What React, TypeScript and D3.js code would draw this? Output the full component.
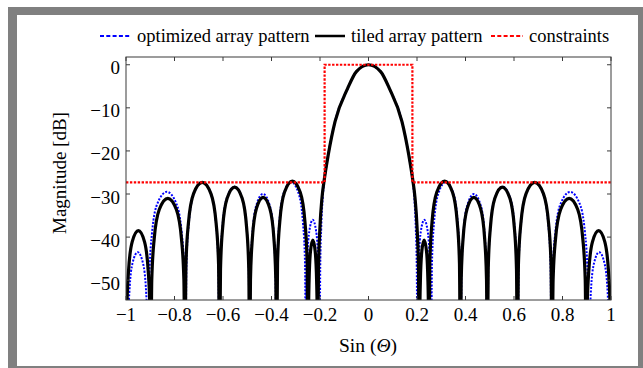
import React from 'react';
import * as d3 from 'd3';

// ---- data ----
const xTickValues = [-1, -0.8, -0.6, -0.4, -0.2, 0, 0.2, 0.4, 0.6, 0.8, 1];
const xTickLabels = ['−1', '−0.8', '−0.6', '−0.4', '−0.2', '0', '0.2', '0.4', '0.6', '0.8', '1'];
const yTickValues = [0, -10, -20, -30, -40, -50];
const yTickLabels = ['0', '−10', '−20', '−30', '−40', '−50'];
const legendLabels = ['optimized array pattern', 'tiled array pattern', 'constraints'];

// constraint mask [sin(theta), dB]
const constraintMask: [number, number][] = [
  [-1, -27.3], [-0.181, -27.3], [-0.181, 0], [0.181, 0], [0.181, -27.3], [1, -27.3],
];

// tiled array pattern [sin(theta), dB]
const tiledPattern: [number, number][] = [
  [-1.0, -70], [-0.9969, -57.5], [-0.9898, -48.0], [-0.9745, -41.1], [-0.949, -38.5], [-0.9235, -41.1], [-0.9082, -48.0], [-0.9011, -57.5],
  [-0.898, -70], [-0.8938, -50.0], [-0.8839, -40.5], [-0.8628, -33.6], [-0.8275, -31.0], [-0.7923, -33.6], [-0.7711, -40.5], [-0.7612, -50.0],
  [-0.757, -70], [-0.7527, -46.3], [-0.7427, -36.8], [-0.7213, -29.9], [-0.6855, -27.3], [-0.6498, -29.9], [-0.6283, -36.8], [-0.6183, -46.3],
  [-0.614, -70], [-0.6103, -47.4], [-0.6016, -37.9], [-0.583, -31.0], [-0.552, -28.4], [-0.521, -31.0], [-0.5024, -37.9], [-0.4937, -47.4],
  [-0.49, -70], [-0.4867, -49.8], [-0.4789, -40.3], [-0.4623, -33.4], [-0.4345, -30.8], [-0.4068, -33.4], [-0.3901, -40.3], [-0.3823, -49.8],
  [-0.379, -70], [-0.3751, -46.0], [-0.366, -36.5], [-0.3465, -29.6], [-0.314, -27.0], [-0.2815, -29.6], [-0.262, -36.5], [-0.2529, -46.0],
  [-0.249, -70], [-0.2478, -59.7], [-0.2451, -50.2], [-0.2393, -43.3], [-0.2295, -40.7], [-0.2198, -43.3], [-0.2139, -50.2], [-0.2112, -59.7],
  [-0.21, -70], [-0.206, -47.0], [-0.2, -37.5], [-0.192, -31.0], [-0.182, -26.5], [-0.166, -20.9], [-0.138, -13.2], [-0.086, -5.5], [-0.05, -1.6],
  [0, 0],
  [0.05, -1.6], [0.086, -5.5], [0.138, -13.2], [0.166, -20.9], [0.182, -26.5], [0.192, -31.0], [0.2, -37.5], [0.206, -47.0], [0.21, -70],
  [0.2112, -59.7], [0.2139, -50.2], [0.2198, -43.3], [0.2295, -40.7], [0.2393, -43.3], [0.2451, -50.2], [0.2478, -59.7], [0.249, -70],
  [0.2529, -46.0], [0.262, -36.5], [0.2815, -29.6], [0.314, -27.0], [0.3465, -29.6], [0.366, -36.5], [0.3751, -46.0], [0.379, -70],
  [0.3823, -49.8], [0.3901, -40.3], [0.4068, -33.4], [0.4345, -30.8], [0.4623, -33.4], [0.4789, -40.3], [0.4867, -49.8], [0.49, -70],
  [0.4937, -47.4], [0.5024, -37.9], [0.521, -31.0], [0.552, -28.4], [0.583, -31.0], [0.6016, -37.9], [0.6103, -47.4], [0.614, -70],
  [0.6183, -46.3], [0.6283, -36.8], [0.6498, -29.9], [0.6855, -27.3], [0.7213, -29.9], [0.7427, -36.8], [0.7527, -46.3], [0.757, -70],
  [0.7612, -50.0], [0.7711, -40.5], [0.7923, -33.6], [0.8275, -31.0], [0.8628, -33.6], [0.8839, -40.5], [0.8938, -50.0], [0.898, -70],
  [0.9011, -57.5], [0.9082, -48.0], [0.9235, -41.1], [0.949, -38.5], [0.9745, -41.1], [0.9898, -48.0], [0.9969, -57.5], [1.0, -70],
];

// optimized array pattern [sin(theta), dB]
const optimizedPattern: [number, number][] = [
  [-0.995, -70], [-0.9924, -62.5], [-0.9863, -53.0], [-0.9733, -46.1], [-0.9515, -43.5], [-0.9298, -46.1], [-0.9167, -53.0], [-0.9106, -62.5],
  [-0.908, -70], [-0.9034, -48.5], [-0.8927, -39.0], [-0.8698, -32.1], [-0.8315, -29.5], [-0.7933, -32.1], [-0.7703, -39.0], [-0.7596, -48.5],
  [-0.755, -70], [-0.7508, -46.3], [-0.741, -36.8], [-0.72, -29.9], [-0.685, -27.3], [-0.65, -29.9], [-0.629, -36.8], [-0.6192, -46.3],
  [-0.615, -70], [-0.6113, -47.3], [-0.6025, -37.8], [-0.5838, -30.9], [-0.5525, -28.3], [-0.5213, -30.9], [-0.5025, -37.8], [-0.4938, -47.3],
  [-0.49, -70], [-0.4867, -49.0], [-0.479, -39.5], [-0.4625, -32.6], [-0.435, -30.0], [-0.4075, -32.6], [-0.391, -39.5], [-0.3833, -49.0],
  [-0.38, -70], [-0.3763, -46.2], [-0.3678, -36.7], [-0.3495, -29.8], [-0.319, -27.2], [-0.2885, -29.8], [-0.2702, -36.7], [-0.2617, -46.2],
  [-0.258, -70], [-0.2563, -55.0], [-0.2524, -45.5], [-0.244, -38.6], [-0.23, -36.0], [-0.216, -38.6], [-0.2076, -45.5], [-0.2037, -55.0],
  [-0.202, -70], [-0.199, -47.0], [-0.195, -38.0], [-0.189, -31.0], [-0.181, -26.5], [-0.166, -20.9], [-0.138, -13.2], [-0.086, -5.5], [-0.05, -1.6],
  [0, 0],
  [0.05, -1.6], [0.086, -5.5], [0.138, -13.2], [0.166, -20.9], [0.181, -26.5], [0.189, -31.0], [0.195, -38.0], [0.199, -47.0], [0.202, -70],
  [0.2037, -55.0], [0.2076, -45.5], [0.216, -38.6], [0.23, -36.0], [0.244, -38.6], [0.2524, -45.5], [0.2563, -55.0], [0.258, -70],
  [0.2617, -46.2], [0.2702, -36.7], [0.2885, -29.8], [0.319, -27.2], [0.3495, -29.8], [0.3678, -36.7], [0.3763, -46.2], [0.38, -70],
  [0.3833, -49.0], [0.391, -39.5], [0.4075, -32.6], [0.435, -30.0], [0.4625, -32.6], [0.479, -39.5], [0.4867, -49.0], [0.49, -70],
  [0.4938, -47.3], [0.5025, -37.8], [0.5213, -30.9], [0.5525, -28.3], [0.5838, -30.9], [0.6025, -37.8], [0.6113, -47.3], [0.615, -70],
  [0.6192, -46.3], [0.629, -36.8], [0.65, -29.9], [0.685, -27.3], [0.72, -29.9], [0.741, -36.8], [0.7508, -46.3], [0.755, -70],
  [0.7596, -48.5], [0.7703, -39.0], [0.7933, -32.1], [0.8315, -29.5], [0.8698, -32.1], [0.8927, -39.0], [0.9034, -48.5], [0.908, -70],
  [0.9106, -62.5], [0.9167, -53.0], [0.9298, -46.1], [0.9515, -43.5], [0.9733, -46.1], [0.9863, -53.0], [0.9924, -62.5], [0.995, -70],
];

const W = 643;
const H = 368;
const PL = 126, PR = 611, PT = 57, PB = 300;
const FONT = '"Liberation Serif", "Times New Roman", serif';

export default function App() {
  const x = d3.scaleLinear().domain([-1, 1]).range([PL, PR]);
  const y = d3.scaleLinear().domain([-54.6, 1.8]).range([PB, PT]);

  const line = d3.line<[number, number]>()
    .x(d => x(d[0]))
    .y(d => y(d[1]))
    .curve(d3.curveMonotoneX);
  const poly = d3.line<[number, number]>()
    .x(d => x(d[0]))
    .y(d => y(d[1]));

  const axisColor = '#3a3a3a';
  const legendY = 36;

  return (
    <svg width={W} height={H} style={{ position: 'absolute', left: 0, top: 0, background: '#fff' }}
      fontFamily={FONT}>
      <defs>
        <clipPath id="plotClip">
          <rect x={PL} y={PT} width={PR - PL} height={PB - PT} />
        </clipPath>
      </defs>
      {/* frame */}
      <rect x={8} y={7} width={W - 8} height={H - 7} fill="#808080" />
      <rect x={17} y={15} width={621} height={351} fill="#ffffff" />

      {/* series */}
      <g clipPath="url(#plotClip)">
        <path d={line(optimizedPattern) || ''} fill="none" stroke="#0000ff" strokeWidth={2}
          strokeDasharray="2,1.5" />
        <path d={line(tiledPattern) || ''} fill="none" stroke="#000" strokeWidth={3.2}
          strokeLinejoin="round" />
        <path d={poly(constraintMask) || ''} fill="none" stroke="#ff0000" strokeWidth={2.2}
          strokeDasharray="2.4,1.5" />
      </g>

      {/* axes box */}
      <rect x={PL} y={PT} width={PR - PL} height={PB - PT} fill="none" stroke={axisColor} strokeWidth={1} />
      {xTickValues.map((v, i) => (
        <g key={'xt' + i}>
          <line x1={x(v)} x2={x(v)} y1={PB} y2={PB - 4} stroke={axisColor} />
          <line x1={x(v)} x2={x(v)} y1={PT} y2={PT + 4} stroke={axisColor} />
          <text x={x(v)} y={321} textAnchor="middle" fontSize={19} fill="#000">{xTickLabels[i]}</text>
        </g>
      ))}
      {yTickValues.map((v, i) => (
        <g key={'yt' + i}>
          <line x1={PL} x2={PL + 4} y1={y(v)} y2={y(v)} stroke={axisColor} />
          <line x1={PR} x2={PR - 4} y1={y(v)} y2={y(v)} stroke={axisColor} />
          <text x={120} y={y(v) + 9.5} textAnchor="end" fontSize={19} fill="#000">{yTickLabels[i]}</text>
        </g>
      ))}

      {/* axis titles */}
      <text transform="translate(66,173) rotate(-90)" textAnchor="middle" fontSize={19} fill="#000">Magnitude [dB]</text>
      <text x={368} y={352} textAnchor="middle" fontSize={19.5} fill="#000">
        Sin (<tspan fontStyle="italic">Θ</tspan>)
      </text>

      {/* legend */}
      <line x1={100} x2={130} y1={legendY} y2={legendY} stroke="#0000ff" strokeWidth={2} strokeDasharray="4,2.3" />
      <text x={137} y={legendY + 6} fontSize={18.5} fill="#000">{legendLabels[0]}</text>
      <line x1={315} x2={345} y1={legendY} y2={legendY} stroke="#000" strokeWidth={2.5} />
      <text x={351} y={legendY + 6} fontSize={18.5} fill="#000">{legendLabels[1]}</text>
      <line x1={491} x2={523} y1={legendY} y2={legendY} stroke="#ff0000" strokeWidth={2} strokeDasharray="4,2.3" />
      <text x={529} y={legendY + 6} fontSize={18.5} fill="#000">{legendLabels[2]}</text>
    </svg>
  );
}
